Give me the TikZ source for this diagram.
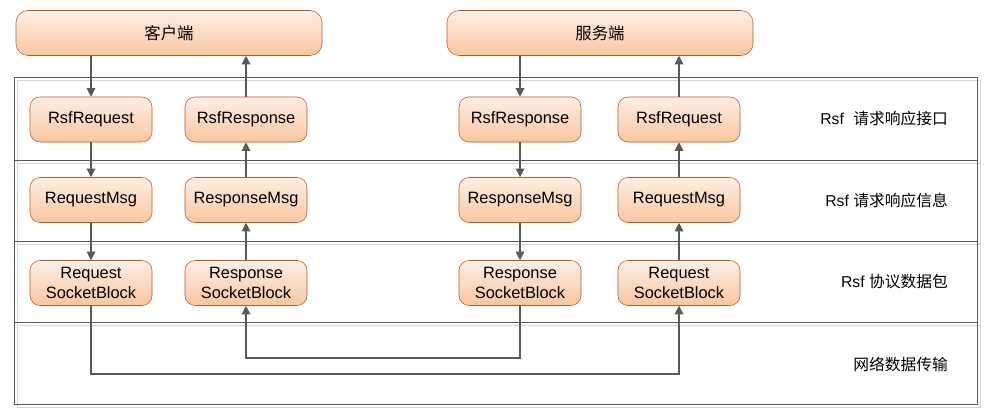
\documentclass[tikz,border=0pt]{standalone}
\usepackage{fontspec}
\setmainfont{Liberation Sans}
\newfontfamily\cjk{Noto Sans CJK SC}
\usepackage{xcolor}
\usetikzlibrary{arrows.meta}

\definecolor{boxtop}{HTML}{FEEFE4}
\definecolor{boxbot}{HTML}{F9C6A0}
\definecolor{boxline}{HTML}{B15E25}
\definecolor{flowgray}{HTML}{595959}
\definecolor{layerdark}{HTML}{595959}
\definecolor{layerlight}{HTML}{D6D6D6}

\tikzset{
	msgbox/.style={draw=boxline, thin, top color=boxtop, bottom color=boxbot,
		rounded corners=7.5pt, minimum width=91.5pt, minimum height=33.75pt,
		inner sep=1pt, align=center, font=\fontsize{12.3}{15}\selectfont},
	endbox/.style={msgbox, rounded corners=9pt, minimum width=229.5pt},
	flow/.style={draw=flowgray, line width=0.9pt, -{Triangle[length=6.5pt,width=6.5pt]}},
	layertext/.style={anchor=east, inner sep=0pt, font=\fontsize{11.8}{15}\selectfont}
}

\begin{document}
\begin{tikzpicture}[x=0.75pt, y=-0.75pt]

\useasboundingbox (0,0) rectangle (994,417);

\def\colA{91}
\def\colB{246}
\def\colC{520}
\def\colD{679}

% layers (light shadow under dark frame)
\foreach \t/\b in {78/160, 160/241, 241/322, 322/404} {
	\draw[layerlight, line width=0.75pt] (17,\t+3) rectangle (980,\b+3);
	\draw[layerdark, line width=0.75pt] (14,\t) rectangle (977,\b);
}

% client and server
\node[endbox] (client) at (169,33) {\cjk 客户端};
\node[endbox] (server) at (600,33) {\cjk 服务端};

% interface row
\node[msgbox] (cliReq)  at (\colA,119.5) {RsfRequest};
\node[msgbox] (cliResp) at (\colB,119.5) {RsfResponse};
\node[msgbox] (srvResp) at (\colC,119.5) {RsfResponse};
\node[msgbox] (srvReq)  at (\colD,119.5) {RsfRequest};

% message row
\node[msgbox] (cliReqMsg)  at (\colA,200) {RequestMsg};
\node[msgbox] (cliRespMsg) at (\colB,200) {ResponseMsg};
\node[msgbox] (srvRespMsg) at (\colC,200) {ResponseMsg};
\node[msgbox] (srvReqMsg)  at (\colD,200) {RequestMsg};

% socket block row
\node[msgbox] (cliReqBlock)  at (\colA,283) {Request\\SocketBlock};
\node[msgbox] (cliRespBlock) at (\colB,283) {Response\\SocketBlock};
\node[msgbox] (srvRespBlock) at (\colC,283) {Response\\SocketBlock};
\node[msgbox] (srvReqBlock)  at (\colD,283) {Request\\SocketBlock};

% layer labels
\node[layertext] (lblApi)  at (948,119) {Rsf\hspace{0.6em}{\cjk 请求响应接口}};
\node[layertext] (lblMsg)  at (948,200) {Rsf {\cjk 请求响应信息}};
\node[layertext] (lblPkg)  at (948,282) {Rsf {\cjk 协议数据包}};
\node[layertext] (lblNet)  at (948,364) {\cjk 网络数据传输};

\coordinate (netLow)  at (0,374);
\coordinate (netHigh) at (0,358);

% client side
\draw[flow] (cliReq |- client.south) -- (cliReq.north);
\draw[flow] (cliReq) -- (cliReqMsg);
\draw[flow] (cliReqMsg) -- (cliReqBlock);
\draw[flow] (cliResp.north) -- (cliResp |- client.south);
\draw[flow] (cliRespMsg) -- (cliResp);
\draw[flow] (cliRespBlock) -- (cliRespMsg);

% server side
\draw[flow] (srvResp |- server.south) -- (srvResp.north);
\draw[flow] (srvResp) -- (srvRespMsg);
\draw[flow] (srvRespMsg) -- (srvRespBlock);
\draw[flow] (srvReq.north) -- (srvReq |- server.south);
\draw[flow] (srvReqMsg) -- (srvReq);
\draw[flow] (srvReqBlock) -- (srvReqMsg);

% network
\draw[flow] (cliReqBlock.south) -- (cliReqBlock.south |- netLow) -| (srvReqBlock.south);
\draw[flow] (srvRespBlock.south) -- (srvRespBlock.south |- netHigh) -| (cliRespBlock.south);

\end{tikzpicture}
\end{document}
